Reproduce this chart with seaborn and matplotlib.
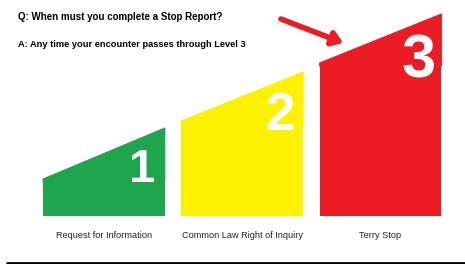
import matplotlib
matplotlib.use("Agg")
import matplotlib.pyplot as plt
import seaborn as sns
from matplotlib.lines import Line2D

# levels of a police encounter
levels = ["Request for Information", "Common Law Right of Inquiry", "Terry Stop"]
numbers = ["1", "2", "3"]
start_height = [37, 95, 153]   # height at left edge of each step
end_height = [88, 144, 202]    # height at right edge of each step
colors = ["#1fa54d", "#fff200", "#ed1c24"]
number_sizes = [34, 38, 44]

question = "Q: When must you complete a Stop Report?"
answer = "A: Any time your encounter passes through Level 3"

sns.set_theme(style="white")
plt.rcParams["font.family"] = ["Liberation Sans", "DejaVu Sans"]

fig = plt.figure(figsize=(4.65, 2.64), dpi=100)
ax = fig.add_axes([0, 0, 1, 1])

width = 0.88
sns.barplot(x=list(range(len(levels))), y=start_height, hue=list(range(len(levels))),
            palette=colors, saturation=1, width=width, linewidth=0, legend=False,
            ax=ax, native_scale=True)

# sloped caps on top of each bar
for i, (h0, h1, c) in enumerate(zip(start_height, end_height, colors)):
    x0, x1 = i - width / 2, i + width / 2
    ax.fill([x0, x1, x1, x0], [h0 - 3, h0 - 3, h1, h0], color=c, lw=0.8, ec=c)
    ax.text(i + 0.275, h1 - 20 - number_sizes[i], numbers[i], color="white",
            fontsize=number_sizes[i], fontweight="bold", ha="center", va="baseline")
    ax.text(i, -19, levels[i], fontsize=6.6, ha="center", va="center", color="#222222")

ax.set_xlim(-0.752, 2.611)
ax.set_ylim(-48, 216)
ax.axis("off")

ax.text(0.038, 0.935, question, transform=ax.transAxes, fontsize=7, fontweight="bold",
        ha="left", va="center", color="black")
ax.text(0.038, 0.832, answer, transform=ax.transAxes, fontsize=6.7, fontweight="bold",
        ha="left", va="center", color="black")

# arrow pointing at level 3
ax.annotate("", xy=(1.73, 173), xytext=(1.28, 197),
            arrowprops=dict(arrowstyle="-|>,head_length=0.5,head_width=0.35",
                            color=colors[2], lw=4, shrinkA=0, shrinkB=0))

fig.add_artist(Line2D([7 / 465, 1], [0.005, 0.005], color="black", lw=2,
                      transform=fig.transFigure))

fig.savefig("out.png", dpi=100)
